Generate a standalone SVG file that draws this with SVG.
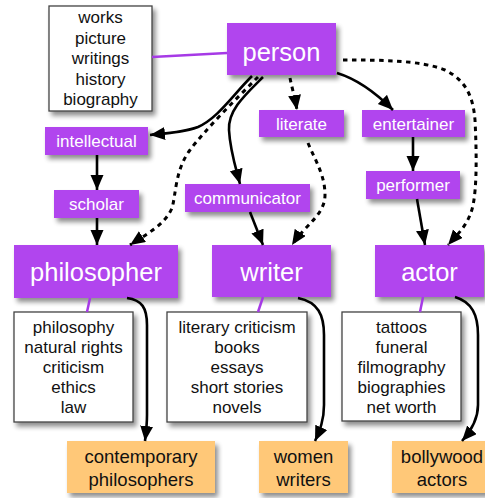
<svg xmlns="http://www.w3.org/2000/svg" width="485" height="498" viewBox="0 0 485 498">
<style>
.p{fill:#b145ee;filter:url(#sh)}
.w{fill:#ffffff;stroke:#444;stroke-width:1.3;filter:url(#sh)}
.o{fill:#ffc878;filter:url(#sh)}
text{font-family:"Liberation Sans",Arial,sans-serif;text-anchor:middle}
.tw{fill:#ffffff}
.tb{fill:#111111}
.big{font-size:25.5px}
.sm{font-size:17px}
.ls{font-size:17px}
.or{font-size:18.5px}
.c{fill:none;stroke:#000;stroke-width:2.6;marker-end:url(#ah)}
.d{fill:none;stroke:#000;stroke-width:3;stroke-dasharray:4.5 4.5;marker-end:url(#ah)}
.pl{fill:none;stroke:#a63ae6;stroke-width:2.5}
</style>
<defs>
<filter id="sh" x="-20%" y="-20%" width="150%" height="160%">
<feGaussianBlur in="SourceAlpha" stdDeviation="2.5"/>
<feOffset dx="3" dy="4" result="b"/>
<feComponentTransfer><feFuncA type="linear" slope="0.45"/></feComponentTransfer>
<feMerge><feMergeNode/><feMergeNode in="SourceGraphic"/></feMerge>
</filter>
<marker id="ah" markerUnits="userSpaceOnUse" markerWidth="17" markerHeight="14" refX="15" refY="6.5" orient="auto">
<path d="M0,0 L15,6.5 L0,13 z" fill="#000"/>
</marker>
</defs>

<g id="n-works"><rect class="w" x="49" y="6" width="103" height="105"/>
<text class="tb ls" x="100.5" y="23">works</text><text class="tb ls" x="100.5" y="43.5">picture</text><text class="tb ls" x="100.5" y="64">writings</text><text class="tb ls" x="100.5" y="84.5">history</text><text class="tb ls" x="100.5" y="105">biography</text></g>
<g id="n-person"><rect class="p" x="227" y="23" width="109" height="52"/><text class="tw big" x="281.5" y="61">person</text></g>
<g id="n-intellectual"><rect class="p" x="45" y="127" width="103" height="28"/><text class="tw sm" x="96.5" y="147">intellectual</text></g>
<g id="n-scholar"><rect class="p" x="54" y="190" width="85" height="28"/><text class="tw sm" x="96.5" y="210">scholar</text></g>
<g id="n-philosopher"><rect class="p" x="14" y="245" width="164" height="53"/><text class="tw big" x="96" y="281">philosopher</text></g>
<g id="n-communicator"><rect class="p" x="185" y="184" width="125" height="28"/><text class="tw sm" x="247.5" y="204">communicator</text></g>
<g id="n-literate"><rect class="p" x="259" y="110" width="85" height="27"/><text class="tw sm" x="301.5" y="130">literate</text></g>
<g id="n-entertainer"><rect class="p" x="362" y="110" width="103" height="27"/><text class="tw sm" x="413.5" y="130">entertainer</text></g>
<g id="n-performer"><rect class="p" x="366" y="171" width="94" height="28"/><text class="tw sm" x="413" y="191">performer</text></g>
<g id="n-writer"><rect class="p" x="212" y="245" width="119" height="52"/><text class="tw big" x="271.5" y="281">writer</text></g>
<g id="n-actor"><rect class="p" x="375" y="245" width="109" height="52"/><text class="tw big" x="429.5" y="281">actor</text></g>
<g id="n-philosophy"><rect class="w" x="14" y="312" width="119" height="110"/>
<text class="tb ls" x="73.5" y="333">philosophy</text><text class="tb ls" x="73.5" y="353">natural rights</text><text class="tb ls" x="73.5" y="373">criticism</text><text class="tb ls" x="73.5" y="393">ethics</text><text class="tb ls" x="73.5" y="413">law</text></g>
<g id="n-literary"><rect class="w" x="167" y="312" width="140" height="110"/>
<text class="tb ls" x="237" y="333">literary criticism</text><text class="tb ls" x="237" y="353">books</text><text class="tb ls" x="237" y="373">essays</text><text class="tb ls" x="237" y="393">short stories</text><text class="tb ls" x="237" y="413">novels</text></g>
<g id="n-tattoos"><rect class="w" x="342" y="312" width="119" height="109"/>
<text class="tb ls" x="401.5" y="333">tattoos</text><text class="tb ls" x="401.5" y="353">funeral</text><text class="tb ls" x="401.5" y="373">filmography</text><text class="tb ls" x="401.5" y="393">biographies</text><text class="tb ls" x="401.5" y="413">net worth</text></g>
<g id="n-contemporary"><rect class="o" x="67" y="441" width="148" height="52"/><text class="tb or" x="141" y="463">contemporary</text><text class="tb or" x="141" y="486">philosophers</text></g>
<g id="n-women"><rect class="o" x="259" y="441" width="89" height="52"/><text class="tb or" x="303.5" y="463">women</text><text class="tb or" x="303.5" y="486">writers</text></g>
<g id="n-bollywood"><rect class="o" x="392" y="441" width="100" height="52"/><text class="tb or" x="442" y="463">bollywood</text><text class="tb or" x="442" y="486">actors</text></g>

<g id="connectors">
<path class="pl" d="M152 57 L227 53"/>
<path class="pl" d="M90 298 L87 312"/>
<path class="pl" d="M263 297 L258 312"/>
<path class="pl" d="M423 297 L420 312"/>
<path class="c" d="M252 76 C232 96 218 118 198 127 C185 132 170 133 150 135"/>
<path class="d" d="M258 77 C235 100 205 130 190 150 C175 170 176 195 172 208 C165 225 145 235 130 245"/>
<path class="c" d="M263 77 C245 95 228 110 229 130 C230 150 235 165 240 184"/>
<path class="d" d="M290 78 C292 88 295 98 297 110"/>
<path class="c" d="M337 73 C360 80 378 95 393 110"/>
<path class="d" d="M343 60 C380 60 420 60 445 70 C465 80 473 95 475 120 C477 160 477 200 470 215 C465 228 455 237 448 245"/>
<path class="c" d="M97 155 L97 190"/>
<path class="c" d="M97 218 L97 245"/>
<path class="c" d="M250 212 L263 245"/>
<path class="d" d="M308 143 C315 160 325 175 325 195 C325 215 305 225 292 245"/>
<path class="c" d="M413 137 L413 171"/>
<path class="c" d="M417 199 L425 245"/>
<path class="c" d="M127 298 C142 300 147 308 147 325 L147 415 C147 425 146 432 145 441"/>
<path class="c" d="M298 298 C318 302 324 315 324 335 L324 405 C324 420 320 430 315 441"/>
<path class="c" d="M455 297 C472 302 478 315 478 335 L478 405 C478 420 470 432 462 441"/>
</g>
</svg>
